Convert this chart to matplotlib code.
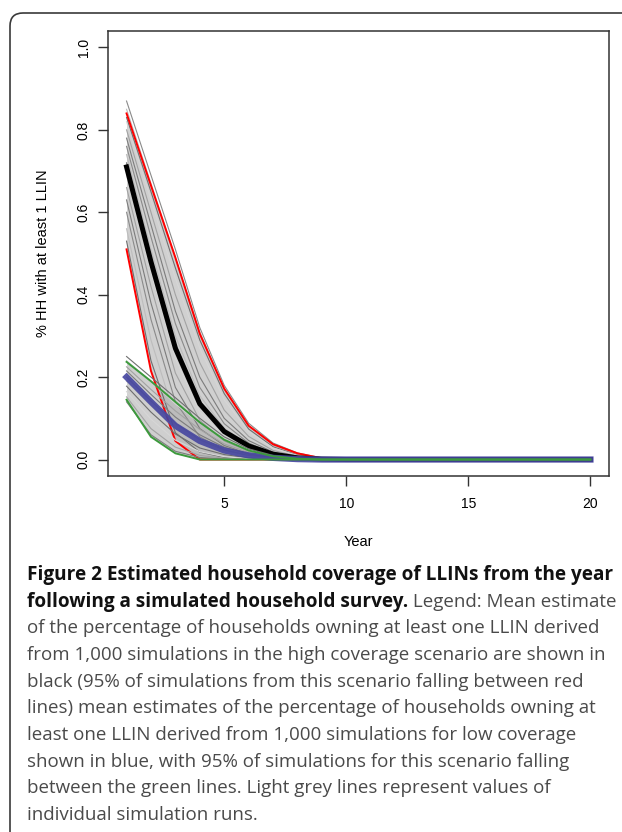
import matplotlib.pyplot as plt
from matplotlib.patches import FancyBboxPatch

# values (year 1..9, flat at zero afterwards)
years = list(range(1, 21))

high_mean = [0.71, 0.48, 0.27, 0.135, 0.068, 0.033, 0.013, 0.004, 0.001]
high_upper = [0.84, 0.665, 0.49, 0.305, 0.172, 0.082, 0.037, 0.015, 0.003]
high_lower = [0.51, 0.215, 0.045, 0.0]
low_mean = [0.2, 0.14, 0.082, 0.045, 0.022, 0.01, 0.004, 0.001]
low_upper = [0.237, 0.19, 0.14, 0.09, 0.048, 0.022, 0.008, 0.002]
low_lower = [0.145, 0.055, 0.015, 0.0]

# a handful of individual simulation runs (grey)
high_runs = [
    [0.87, 0.69, 0.51, 0.32, 0.18, 0.088, 0.04, 0.016, 0.004],
    [0.85, 0.67, 0.49, 0.31, 0.17, 0.08, 0.035, 0.013, 0.003],
    [0.83, 0.65, 0.465, 0.29, 0.16, 0.074, 0.031, 0.011, 0.002],
    [0.82, 0.63, 0.44, 0.27, 0.145, 0.068, 0.028, 0.01, 0.002],
    [0.80, 0.60, 0.40, 0.235, 0.12, 0.056, 0.022, 0.008, 0.001],
    [0.78, 0.57, 0.36, 0.20, 0.10, 0.046, 0.018, 0.006, 0.001],
    [0.76, 0.54, 0.33, 0.175, 0.087, 0.04, 0.015, 0.005],
    [0.74, 0.51, 0.30, 0.155, 0.076, 0.035, 0.013, 0.004],
    [0.72, 0.49, 0.28, 0.14, 0.07, 0.032, 0.012, 0.003],
    [0.69, 0.455, 0.245, 0.115, 0.056, 0.026, 0.009, 0.002],
    [0.66, 0.42, 0.21, 0.095, 0.045, 0.02, 0.007, 0.001],
    [0.63, 0.38, 0.175, 0.075, 0.034, 0.014, 0.004],
    [0.60, 0.34, 0.14, 0.055, 0.024, 0.009, 0.002],
    [0.56, 0.29, 0.10, 0.035, 0.013, 0.004],
    [0.53, 0.24, 0.065, 0.018, 0.005, 0.001],
]
low_runs = [
    [0.25, 0.20, 0.15, 0.10, 0.055, 0.026, 0.01, 0.003],
    [0.24, 0.19, 0.135, 0.088, 0.048, 0.022, 0.008, 0.002],
    [0.225, 0.17, 0.118, 0.073, 0.038, 0.017, 0.006, 0.001],
    [0.215, 0.158, 0.103, 0.06, 0.03, 0.013, 0.004],
    [0.20, 0.142, 0.088, 0.048, 0.023, 0.01, 0.003],
    [0.19, 0.13, 0.075, 0.038, 0.017, 0.007, 0.002],
    [0.178, 0.115, 0.062, 0.028, 0.012, 0.004, 0.001],
    [0.165, 0.098, 0.047, 0.019, 0.007, 0.002],
    [0.152, 0.075, 0.03, 0.01, 0.003],
    [0.14, 0.06, 0.02, 0.005, 0.001],
]

x_ticks = [5, 10, 15, 20]
y_ticks = [0.0, 0.2, 0.4, 0.6, 0.8, 1.0]
y_tick_labels = ['0.0', '0.2', '0.4', '0.6', '0.8', '1.0']

caption_bold = ['Figure 2 Estimated household coverage of LLINs from the year',
                'following a simulated household survey.']
caption_lines = [
    ' Legend: Mean estimate',
    'of the percentage of households owning at least one LLIN derived',
    'from 1,000 simulations in the high coverage scenario are shown in',
    'black (95% of simulations from this scenario falling between red',
    'lines) mean estimates of the percentage of households owning at',
    'least one LLIN derived from 1,000 simulations for low coverage',
    'shown in blue, with 95% of simulations for this scenario falling',
    'between the green lines. Light grey lines represent values of',
    'individual simulation runs.',
]

greys = ['#8a8a8a', '#bdbdbd', '#6e6e6e', '#d6d6d6', '#a2a2a2', '#7c7c7c']


def full(vals):
    # pad with the zeros the runs settle at
    return list(vals) + [0.0] * (len(years) - len(vals))


def main():
    plt.rcParams['font.family'] = ['Liberation Sans', 'DejaVu Sans']
    W, H = 622, 832
    fig = plt.figure(figsize=(W / 100, H / 100), dpi=100, facecolor='w')

    # rounded panel frame, runs off the right and bottom edges
    frame = FancyBboxPatch((0.10, -1.0), 8.0, 9.19,
                           boxstyle='round,pad=0,rounding_size=0.13',
                           transform=fig.dpi_scale_trans, fill=False,
                           edgecolor='#3a3a3a', linewidth=1.2)
    fig.add_artist(frame)

    ax = fig.add_axes([108 / W, 1 - 476 / H, (609 - 108) / W, (476 - 31) / H])

    # high coverage scenario
    ax.fill_between(years, full(high_lower), full(high_upper), color='#bcbcbc', alpha=0.7, lw=0)
    for i, run in enumerate(high_runs):
        ax.plot(years, full(run), color=greys[i % len(greys)], lw=0.8)
    ax.plot(years, full(high_upper), color='#ff0000', lw=1.4)
    ax.plot(years, full(high_lower), color='#ff0000', lw=1.4)
    ax.plot(years, full(high_mean), color='black', lw=3.6)

    # low coverage scenario
    ax.fill_between(years, full(low_lower), full(low_upper), color='#b0b0b0', alpha=0.6, lw=0)
    for i, run in enumerate(low_runs):
        ax.plot(years, full(run), color=greys[(i + 2) % len(greys)], lw=0.8)
    ax.plot(years, full(low_mean), color='#4545a0', lw=4.5, alpha=0.9)
    ax.plot(years, full(low_upper), color='#3c9a3c', lw=1.4)
    ax.plot(years, full(low_lower), color='#3c9a3c', lw=1.4)

    ax.set_xlim(0.24, 20.76)
    ax.set_ylim(-0.04, 1.04)
    ax.set_xticks(x_ticks)
    ax.set_yticks(y_ticks)
    ax.set_yticklabels(y_tick_labels, rotation=90, va='center')
    ax.tick_params(direction='out', length=7.2, width=1, color='#333333', labelsize=10)
    ax.tick_params(axis='x', pad=8.2)
    ax.tick_params(axis='y', pad=5.4)
    for s in ax.spines.values():
        s.set_color('#333333')
        s.set_linewidth(1.1)

    ax.set_xlabel('Year', fontsize=10.5, va='center')
    ax.xaxis.set_label_coords(0.5, (476 - 542) / (476 - 31))
    ax.set_ylabel('% HH with at least 1 LLIN', fontsize=10.5, va='center')
    ax.yaxis.set_label_coords((43 - 108) / (609 - 108), 0.5)

    # caption: fit the font size to the line widths of the reference
    cap_font = ['Open Sans', 'DejaVu Sans']
    probe = fig.text(0, 0, caption_lines[1], fontsize=13, family=cap_font)
    probe_b = fig.text(0, 0, caption_bold[0], fontsize=13, family=cap_font, weight='bold')
    fig.canvas.draw()
    size = 13 * 570 / probe.get_window_extent().width
    size_b = 13 * 581 / probe_b.get_window_extent().width
    probe.remove()
    probe_b.remove()

    x0 = 27 / W
    base = 580
    step = 26.67

    def ypos(i):
        return 1 - (base + i * step) / H

    fig.text(x0, ypos(0), caption_bold[0], fontsize=size_b, family=cap_font,
             weight='bold', color='#111111', va='baseline')
    b = fig.text(x0, ypos(1), caption_bold[1], fontsize=size_b, family=cap_font,
                 weight='bold', color='#111111', va='baseline')
    fig.canvas.draw()
    bx = b.get_window_extent()
    fig.text(bx.x1 / W, ypos(1), caption_lines[0], fontsize=size, family=cap_font,
             color='#4a4a4a', va='baseline')
    for i, line in enumerate(caption_lines[1:]):
        fig.text(x0, ypos(i + 2), line, fontsize=size, family=cap_font,
                 color='#4a4a4a', va='baseline')

    plt.savefig('out.png', dpi=100, facecolor='w')


if __name__ == '__main__':
    main()
